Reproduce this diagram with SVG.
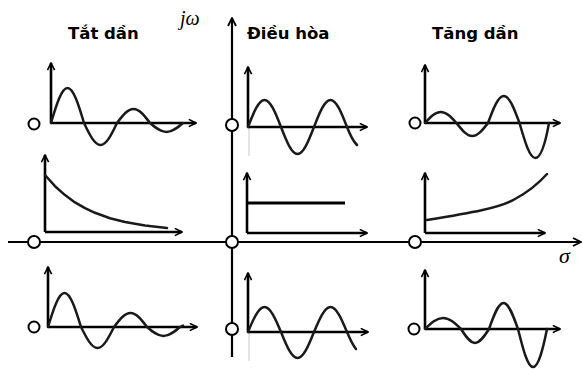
<svg xmlns="http://www.w3.org/2000/svg" width="583" height="369" viewBox="0 0 583 369">
<style>
.ax{stroke:#000;stroke-width:2.2;fill:none}
.cax{stroke:#000;stroke-width:2.6;fill:none;marker-end:url(#a)}
.w{stroke:#1a1a1a;stroke-width:2.5;fill:none;stroke-linejoin:round;stroke-linecap:round}
.pole{fill:#fff;stroke:#000;stroke-width:2}
.t{font-family:"DejaVu Sans",sans-serif;font-weight:bold;font-size:16.5px;fill:#000}
.m{font-family:"Liberation Serif",serif;font-style:italic;fill:#000}
.g{stroke:#bbb;stroke-width:0.8}
</style>
<defs>
<marker id="a" viewBox="0 0 10 10" refX="9" refY="5" markerWidth="9" markerHeight="9" markerUnits="userSpaceOnUse" orient="auto">
<path d="M1,1 L9,5 L1,9" fill="none" stroke="#000" stroke-width="1.8"/>
</marker>
<marker id="b" viewBox="0 0 10 10" refX="9" refY="5" markerWidth="10" markerHeight="10" markerUnits="userSpaceOnUse" orient="auto">
<path d="M1,1 L9,5 L1,9" fill="none" stroke="#000" stroke-width="1.8"/>
</marker>
</defs>
<g id="connectors">
<line class="ax" x1="8" y1="242" x2="581" y2="242" marker-end="url(#b)"/>
<line class="ax" x1="232" y1="357" x2="232" y2="18" marker-end="url(#b)"/>
</g>
<g id="labels">
<text class="m" x="180" y="25" font-size="20">jω</text>
<text class="m" x="559" y="263" font-size="22">σ</text>
<text class="t" x="68" y="39">Tắt dần</text>
<text class="t" x="247" y="39">Điều hòa</text>
<text class="t" x="432" y="39">Tăng dần</text>
</g>
<g id="chart-tl">
<line class="cax" x1="51" y1="123" x2="51" y2="63"/>
<line class="cax" x1="51" y1="123" x2="196" y2="123"/>
<path class="w" d="M51,123 C56.5,104.6 61.6,88 67.5,88 C73.4,88 78.5,104.6 84,123 C89.5,134.6 94.6,145 100.5,145 C106.4,145 111.5,134.6 117,123 C122.5,115.6 127.6,109 133.5,109 C139.4,109 144.5,115.6 150,123 C155.5,127.7 160.6,132 166.5,132 C172.4,132 177.5,127.7 183,123"/>
<circle class="pole" cx="34" cy="124" r="5.5"/>
</g>
<g id="chart-ml">
<line class="cax" x1="45" y1="232" x2="45" y2="155"/>
<line class="cax" x1="45" y1="232" x2="182" y2="232"/>
<path class="w" d="M45,175 L55,186.2 L65,195.1 L75,202.4 L85,208.2 L95,212.8 L110,218.2 L125,222 L145,225.6 L167,228"/>
<circle class="pole" cx="34" cy="242" r="6"/>
</g>
<g id="chart-bl">
<line class="cax" x1="48" y1="327" x2="48" y2="267"/>
<line class="cax" x1="48" y1="327" x2="197" y2="327"/>
<path class="w" d="M48,327 C53.5,309.1 58.6,293 64.5,293 C70.4,293 75.5,309.1 81,327 C86.5,338 91.6,348 97.5,348 C103.4,348 108.5,338 114,327 C119.5,319.6 124.6,313 130.5,313 C136.4,313 141.5,319.6 147,327 C152.5,331.7 157.6,336 163.5,336 C169.4,336 174.5,331.7 180,327 L183,325.5"/>
<circle class="pole" cx="34" cy="327" r="5.5"/>
</g>
<g id="chart-tm">
<line class="g" x1="249" y1="127" x2="249" y2="156"/>
<line class="cax" x1="248" y1="127" x2="248" y2="67"/>
<line class="cax" x1="248" y1="127" x2="367" y2="127"/>
<path class="w" d="M248,127 C253.5,112.8 258.6,100 264.5,100 C270.4,100 275.5,112.8 281,127 C286.5,141.2 291.6,154 297.5,154 C303.4,154 308.5,141.2 314,127 C319.5,112.8 324.6,100 330.5,100 C336.4,100 341.5,112.8 347,127 Q352,140 357,145"/>
<circle class="pole" cx="232" cy="125" r="6"/>
</g>
<g id="chart-mm">
<line class="cax" x1="247" y1="233" x2="247" y2="173"/>
<line class="cax" x1="247" y1="233" x2="367" y2="233"/>
<line x1="247" y1="203" x2="345" y2="203" stroke="#000" stroke-width="2.8"/>
<circle class="pole" cx="232" cy="242" r="6"/>
</g>
<g id="chart-bm">
<line class="g" x1="249" y1="332" x2="249" y2="361"/>
<line class="cax" x1="248" y1="332" x2="248" y2="273"/>
<line class="cax" x1="248" y1="332" x2="368" y2="332"/>
<path class="w" d="M248,332 C253.5,318.9 258.6,307 264.5,307 C270.4,307 275.5,318.9 281,332 C286.5,345.7 291.6,358 297.5,358 C303.4,358 308.5,345.7 314,332 C319.5,318.9 324.6,307 330.5,307 C336.4,307 341.5,318.9 347,332 Q352,344 356,349"/>
<circle class="pole" cx="232" cy="329" r="6"/>
</g>
<g id="chart-tr">
<line class="cax" x1="425" y1="123" x2="425" y2="65"/>
<line class="cax" x1="425" y1="123" x2="560" y2="123"/>
<path class="w" d="M425,123 C430.3,117.2 435.1,112 440.8,112 C446.4,112 451.2,117.2 456.5,123 C461.8,129.8 466.6,136 472.3,136 C477.9,136 482.7,129.8 488,123 C493.3,108.8 498.1,96 503.8,96 C509.4,96 514.2,108.8 519.5,123 C524.8,141.4 529.6,158 535.3,158 C540.9,158 545.7,141.4 549,123"/>
<circle class="pole" cx="415" cy="123" r="5.5"/>
</g>
<g id="chart-mr">
<line class="cax" x1="425" y1="233" x2="425" y2="173"/>
<line class="cax" x1="425" y1="233" x2="545" y2="233"/>
<path class="w" d="M427,220 C470,213 500,208 515,199 C530,191 538,184 547,174"/>
<circle class="pole" cx="415" cy="242" r="6"/>
</g>
<g id="chart-br">
<line class="cax" x1="425" y1="329" x2="425" y2="270"/>
<line class="cax" x1="425" y1="329" x2="560" y2="329"/>
<path class="w" d="M425,329 C431,323.2 436.5,318 443,318 C449.5,318 455,323.2 461,329 C465.7,336.4 470,343 475,343 C480,343 484.3,336.4 489,329 C493.8,315.4 498.3,303 503.5,303 C508.7,303 513.2,315.4 518,329 C523,349 527.6,367 533,367 C538.4,367 543,349 547,329"/>
<circle class="pole" cx="414" cy="329" r="5.5"/>
</g>
</svg>
